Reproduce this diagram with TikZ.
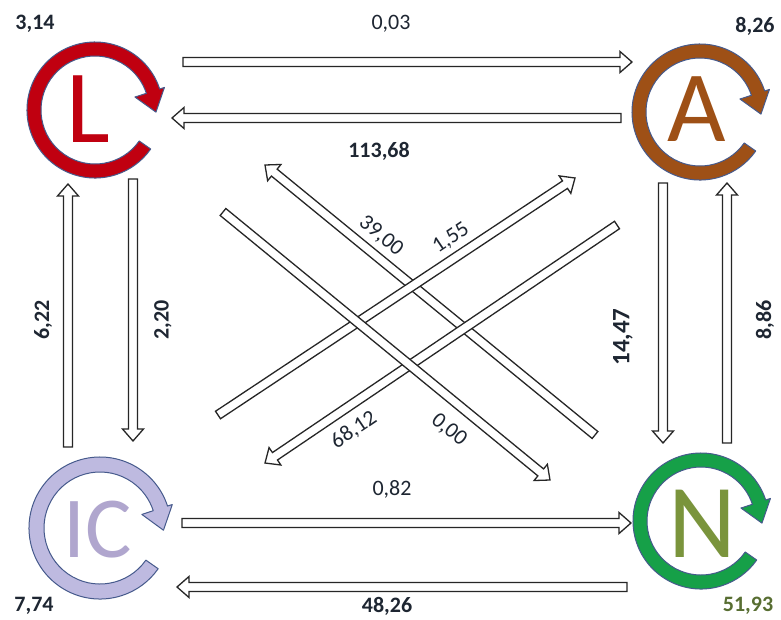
\documentclass[tikz,border=0pt]{standalone}
\usepackage{fontspec}
\setmainfont{Carlito}
\usetikzlibrary{calc}
\definecolor{ringedge}{RGB}{70,90,140}
\definecolor{cL}{RGB}{192,0,16}
\definecolor{cA}{RGB}{158,80,22}
\definecolor{cIC}{RGB}{190,186,224}
\definecolor{cICt}{RGB}{176,166,206}
\definecolor{cN}{RGB}{22,160,72}
\definecolor{cNt}{RGB}{122,148,60}
\definecolor{lab}{RGB}{30,38,50}
\definecolor{labN}{RGB}{88,110,50}
\newcommand\cycring[5]{%
 \begin{scope}[shift={#1}, yscale=-1]
  \filldraw[draw=ringedge, line width=1pt, fill=#4, line join=round]
    (18:#2) arc[start angle=18, end angle=325, radius=#2]
    -- (325:#3) arc[start angle=325, end angle=18, radius=#3]
    -- (18:{#3-#5}) -- (-2:{(#2+#3)/2}) -- (18:{#2+5}) -- cycle;
 \end{scope}}
\newcommand\harrow[2]{%
 \draw[harr]
  ($(#1)!4.5pt!90:(#2)$)
  -- ($(#2)!12pt!(#1)!4.5pt!90:(#2)$)
  -- ($(#2)!12pt!(#1)!10.5pt!90:(#2)$)
  -- (#2)
  -- ($(#2)!12pt!(#1)!10.5pt!-90:(#2)$)
  -- ($(#2)!12pt!(#1)!4.5pt!-90:(#2)$)
  -- ($(#1)!4.5pt!-90:(#2)$)
  -- cycle;}
\tikzset{
  harr/.style={draw=black!85, fill=white, line width=1.3pt, line join=miter},
  num/.style={text=lab, inner sep=0pt, font=\fontsize{22}{24}\selectfont},
  bnum/.style={num, font=\fontsize{22}{24}\selectfont\bfseries},
  letter/.style={inner sep=0pt, font=\fontsize{#1}{#1}\selectfont},
}
\begin{document}
\begin{tikzpicture}[x=1pt,y=-1pt]
\useasboundingbox[fill=white] (0,0) rectangle (781,619);
% rings
\cycring{(95,110)}{68}{54}{cL}{12}
\cycring{(700,112)}{68}{54}{cA}{12}
\cycring{(100,528)}{71}{56}{cIC}{12}
\cycring{(701,521)}{68}{54}{cN}{12}
% letters
\node[letter=104, text=cL] (L) at (88,109) {L};
\node[letter=101, text=cA] (A) at (697,109) {A};
\node[letter=87, text=cICt] (IC) at (98,530) {IC};
\node[letter=105, text=cNt] (N) at (702,524) {N};
% connector end points
\coordinate (LAa) at (183,62);  \coordinate (LAb) at (632,62);
\coordinate (ALa) at (621,118); \coordinate (ALb) at (172,118);
\coordinate (ICLa) at (68,447); \coordinate (ICLb) at (68,184);
\coordinate (LICa) at (133,179);\coordinate (LICb) at (133,441);
\coordinate (ANa) at (663,183); \coordinate (ANb) at (663,443);
\coordinate (NAa) at (727,443); \coordinate (NAb) at (727,183);
\coordinate (ICNa) at (182,523);\coordinate (ICNb) at (631,523);
\coordinate (NICa) at (627,587);\coordinate (NICb) at (177,587);
\coordinate (NLa) at (595,435); \coordinate (NLb) at (265,165);
\coordinate (ICAa) at (218,415);\coordinate (ICAb) at (575,178);
\coordinate (AICa) at (617,225);\coordinate (AICb) at (265,463);
\coordinate (LNa) at (223,212); \coordinate (LNb) at (550,480);
% arrows
\harrow{LAa}{LAb}
\harrow{ALa}{ALb}
\harrow{ICLa}{ICLb}
\harrow{LICa}{LICb}
\harrow{ANa}{ANb}
\harrow{NAa}{NAb}
\harrow{ICNa}{ICNb}
\harrow{NICa}{NICb}
\harrow{NLa}{NLb}
\harrow{ICAa}{ICAb}
\harrow{AICa}{AICb}
\harrow{LNa}{LNb}
% labels
\node[num] (t1) at (391,24) {0,03};
\node[bnum] (t2) at (379,151) {113,68};
\node[num] (t3) at (392,489) {0,82};
\node[bnum] (t4) at (387,606) {48,26};
\node[bnum] (c1) at (35,24) {3,14};
\node[bnum] (c2) at (755,26) {8,26};
\node[bnum] (c3) at (34,606) {7,74};
\node[bnum, text=labN] (c4) at (748,606) {51,93};
\node[bnum, rotate=90] (v1) at (43,320) {6,22};
\node[bnum, rotate=90] (v2) at (163,320) {2,20};
\node[bnum, rotate=90, font=\fontsize{25}{27}\selectfont\bfseries] (v3) at (623,337) {14,47};
\node[bnum, rotate=90] (v4) at (765,320) {8,86};
\node[num, rotate=-39] (d1) at (381,236) {39,00};
\node[num, rotate=34] (d2) at (451,238) {1,55};
\node[num, rotate=34] (d3) at (354,430) {68,12};
\node[num, rotate=-39] (d4) at (449,430) {0,00};
\end{tikzpicture}
\end{document}
